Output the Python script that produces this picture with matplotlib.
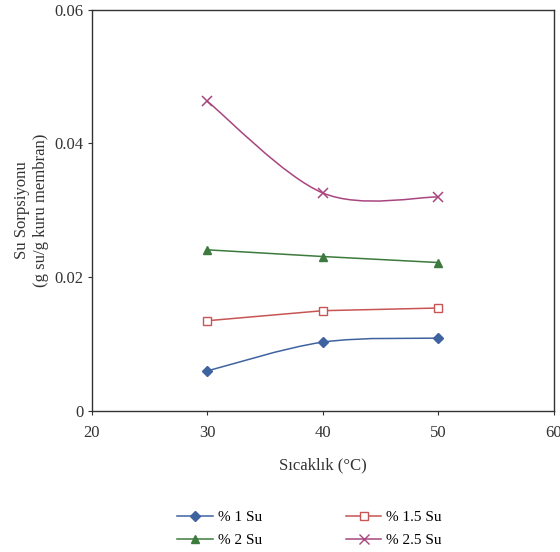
import matplotlib.pyplot as plt
import numpy as np
from matplotlib.path import Path
from matplotlib.patches import PathPatch

plt.rcParams['font.family'] = ['Liberation Serif', 'DejaVu Serif']
plt.rcParams['font.size'] = 12

# Datos
sicaklik = [30, 40, 50]
su_1 = [0.0060, 0.0103, 0.0109]
su_15 = [0.0135, 0.0150, 0.0154]
su_2 = [0.0241, 0.0231, 0.0222]
su_25 = [0.0463, 0.0326, 0.0320]

etiquetas = ['% 1 Su', '% 1.5 Su', '% 2 Su', '% 2.5 Su']
colores = ['#3f63a0', '#c85555', '#3d7a3d', '#a8457f']


def curva_suave(ax, x, y, color):
    """Bezier al estilo Excel (línea suavizada) a través de los puntos."""
    pts = np.column_stack([x, y]).astype(float)
    n = len(pts)
    verts = [tuple(pts[0])]
    codes = [Path.MOVETO]
    for i in range(n - 1):
        p0 = pts[i - 1] if i > 0 else pts[i]
        p1 = pts[i]
        p2 = pts[i + 1]
        p3 = pts[i + 2] if i + 2 < n else pts[i + 1]
        c1 = p1 + (p2 - p0) / 6.0
        c2 = p2 - (p3 - p1) / 6.0
        verts += [tuple(c1), tuple(c2), tuple(p2)]
        codes += [Path.CURVE4] * 3
    ax.add_patch(PathPatch(Path(verts, codes), facecolor='none',
                           edgecolor=color, linewidth=1.1))


fig = plt.figure(figsize=(5.6, 5.52), dpi=100)
ax = fig.add_axes([0.164, 0.2554, 0.825, 0.727])

# % 1 Su (suavizada)
curva_suave(ax, sicaklik, su_1, colores[0])
ax.plot(sicaklik, su_1, linestyle='none', marker='D', markersize=5,
        color=colores[0])
l1, = ax.plot([], [], '-D', color=colores[0], markersize=5, lw=1.1)

# % 1.5 Su
l2, = ax.plot(sicaklik, su_15, '-s', color=colores[1], markersize=6,
              markerfacecolor='white', markeredgewidth=1.0, lw=1.1)

# % 2 Su
l3, = ax.plot(sicaklik, su_2, '-^', color=colores[2], markersize=6, lw=1.1)

# % 2.5 Su (suavizada)
curva_suave(ax, sicaklik, su_25, colores[3])
ax.plot(sicaklik, su_25, linestyle='none', marker='x', markersize=7,
        color=colores[3], markeredgewidth=1.1)
l4, = ax.plot([], [], '-x', color=colores[3], markersize=7, lw=1.1)

ax.set_xlim(20, 60)
ax.set_ylim(0, 0.06)
ax.set_xticks([20, 30, 40, 50, 60])
ax.set_yticks([0, 0.02, 0.04, 0.06])
ax.set_yticklabels(['0', '0.02', '0.04', '0.06'])
ax.tick_params(direction='out', length=3, width=0.8, colors='#333333',
               labelcolor='#333333', labelsize=12)
ax.tick_params(axis='x', pad=7)
ax.tick_params(axis='y', pad=3)
for s in ax.spines.values():
    s.set_color('#333333')
    s.set_linewidth(1.0)

ax.set_xlabel('Sıcaklık (°C)', fontsize=12, color='#333333', labelpad=12)
ax.set_ylabel('Su Sorpsiyonu\n(g su/g kuru membran)', fontsize=12,
              color='#333333')
ax.yaxis.set_label_coords(-0.093, 0.5)

# orden para que las filas sean (1, 1.5) y (2, 2.5)
fig.legend([l1, l3, l2, l4], [etiquetas[0], etiquetas[2], etiquetas[1], etiquetas[3]],
           loc='lower center', bbox_to_anchor=(0.553, -0.016), ncol=2,
           frameon=False, fontsize=11, columnspacing=5.5, handlelength=2.3,
           handletextpad=0.35, labelspacing=0.6)

fig.savefig('out.png', dpi=100)
